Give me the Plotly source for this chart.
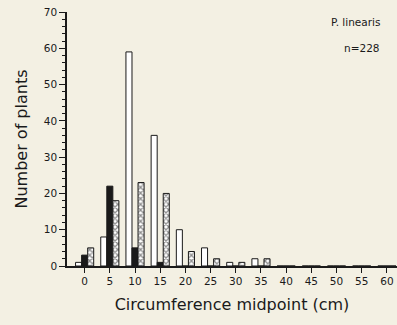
import plotly.graph_objects as go

midpoints = [0, 5, 10, 15, 20, 25, 30, 35, 40, 45, 50, 55, 60]
open_counts = [1, 8, 59, 36, 10, 5, 1, 2, 0, 0, 0, 0, 0]
solid_counts = [3, 22, 5, 1, 0, 0, 0, 0, 0, 0, 0, 0, 0]
hatched_counts = [5, 18, 23, 20, 4, 2, 1, 2, 0, 0, 0, 0, 0]
x_ticks = list(range(0, 61, 5))
y_ticks = list(range(0, 71, 10))

BG = "#f3f0e3"
INK = "#1a1a1a"
FONT = "DejaVu Sans, Liberation Sans, sans-serif"

fig = go.Figure()
fig.add_trace(go.Bar(x=midpoints, y=open_counts, name="open",
                     marker=dict(color="white", line=dict(color=INK, width=1))))
fig.add_trace(go.Bar(x=midpoints, y=solid_counts, name="solid",
                     marker=dict(color=INK, line=dict(color=INK, width=1))))
fig.add_trace(go.Bar(x=midpoints, y=hatched_counts, name="hatched",
                     marker=dict(color="white", line=dict(color=INK, width=1),
                                 pattern=dict(shape="x", fgcolor=INK, bgcolor="white",
                                              size=4, solidity=0.55))))

fig.update_layout(
    width=397, height=325,
    margin=dict(l=67, r=0, t=12, b=59),
    paper_bgcolor=BG, plot_bgcolor=BG,
    barmode="group", bargap=0.28, bargroupgap=0,
    showlegend=False,
    font=dict(family=FONT, color=INK, size=11),
    xaxis=dict(range=[-3.5, 62], tickvals=x_ticks, ticktext=[str(t) for t in x_ticks],
               ticks="outside", ticklen=5, tickwidth=1.2, tickcolor=INK, automargin=False,
               showline=True, linecolor=INK, linewidth=1.5, showgrid=False, zeroline=False,
               tickfont=dict(size=10.5),
               title=dict(text="Circumference midpoint (cm)", font=dict(size=16), standoff=12)),
    yaxis=dict(range=[0, 70], tickvals=y_ticks, ticks="outside", ticklen=6, tickwidth=1.2,
               tickcolor=INK, showline=True, linecolor=INK, linewidth=1.5, automargin=False,
               showgrid=False, zeroline=False, tickfont=dict(size=10.5),
               minor=dict(dtick=2, ticks="outside", ticklen=3, tickcolor=INK, tickwidth=1),
               title=dict(text="Number of plants", font=dict(size=16), standoff=12)),
    annotations=[
        dict(text="P. linearis", xref="paper", yref="paper", x=0.955, y=0.96,
             xanchor="right", yanchor="middle", showarrow=False, font=dict(size=10.5)),
        dict(text="n=228", xref="paper", yref="paper", x=0.955, y=0.858,
             xanchor="right", yanchor="middle", showarrow=False, font=dict(size=10.5)),
    ],
)

fig.write_html("out.html", config={"displayModeBar": False},
               post_script="document.body.style.margin='0';")
